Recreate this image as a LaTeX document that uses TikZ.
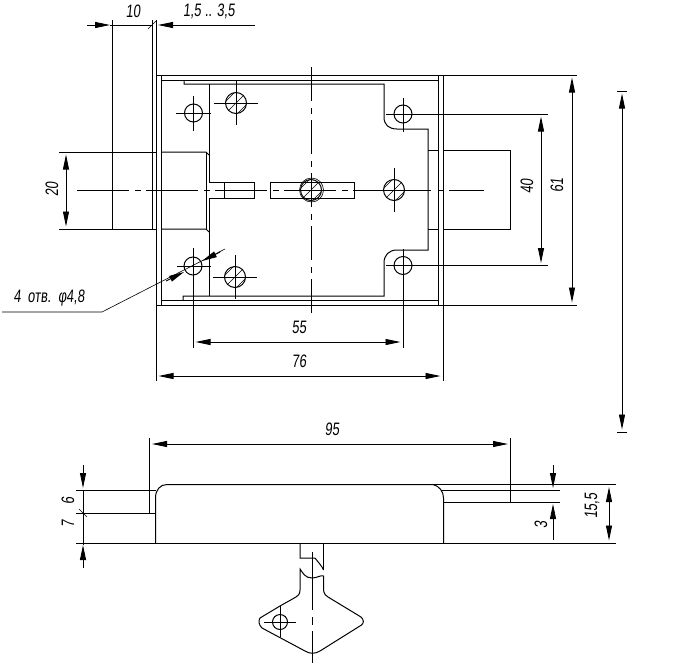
\documentclass[tikz,border=0pt]{standalone}
\usepackage{fontspec}
\setmainfont[FakeStretch=0.72,AutoFakeSlant=0.1]{Liberation Sans}
\usetikzlibrary{arrows.meta}
\tikzset{
  part/.style={line width=1pt},
  thinline/.style={line width=0.6pt},
  dimtip/.style={-{Triangle[length=15pt,width=6pt]},line width=0.9pt},
  dimboth/.style={{Triangle[length=15pt,width=6pt]}-{Triangle[length=15pt,width=6pt]},line width=0.9pt,shorten <=2.5pt,shorten >=2.5pt},
  dimtext/.style={font=\fontsize{18}{18}\selectfont\itshape,inner sep=0pt},
  axisx/.style={line width=1pt,dash pattern=on 52pt off 6pt on 6pt off 5pt on 52pt off 6pt on 6pt off 5pt on 52pt off 6pt on 6pt off 5pt on 52pt off 6pt on 6pt off 5pt on 78pt off 7pt on 6pt off 5pt on 40pt},
  axisy/.style={line width=1pt,dash pattern=on 34pt off 7pt on 6pt off 6pt}
}
\newcommand{\hatchedhole}[3]{%
  \draw[part] (#1,#2) circle (#3);%
  \begin{scope}[shift={(#1,#2)}]
    \clip (0,0) circle (#3);
    \foreach \s in {-12,-6,0,6,12}
      \draw[thinline] (-20+\s,20+\s) -- (20+\s,-20+\s);
  \end{scope}}
\begin{document}
\begin{tikzpicture}[x=1pt,y=-1pt]
  \useasboundingbox (0,0) rectangle (687,664);

  % Housing, front view
  \draw[part] (156,20) -- (156,381);%
  \draw[part] (443,75) -- (443,381);%
  \draw[part] (161,75) -- (161,305);%
  \draw[part] (438,75) -- (438,305);%
  \draw[part] (156,75) -- (577,75);%
  \draw[part] (156,305) -- (577,305);%
  \draw[part] (161,80) -- (438,80);%
  \draw[part] (161,300) -- (438,300);%

  % Inner plate
  \draw[part] (184,80) -- (184,84) -- (384,84) -- (384,117)
    .. controls (384,125) and (389,129) .. (397,129) -- (428,129) -- (428,250) -- (397,250)
    .. controls (389,250) and (384,255) .. (384,263) -- (384,296) -- (183,296) -- (183,300);%
  \draw[part] (209,84) -- (209,182) -- (224,182);%
  \draw[part] (224,198) -- (209,198) -- (209,296);%

  % Bolt and its tail
  \draw[part] (59,152) -- (156,152);%
  \draw[part] (59,229) -- (156,229);%
  \draw[part] (161,152) -- (206,152) -- (209,155);%
  \draw[part] (161,229) -- (206,229) -- (209,232);%
  \draw[part] (206,152) -- (206,229);%
  \draw[part] (112,20) -- (112,229);%
  \draw[part] (152,20) -- (152,229);%
  \draw[part] (224,182) rectangle (254,198);%
  \draw[part] (354,182) -- (270,182) -- (270,198) -- (354,198) -- cycle;%
  \draw[part] (428,150) -- (438,150);%
  \draw[part] (428,229) -- (438,229);%
  \draw[part] (443,150) -- (510,150) -- (510,229) -- (443,229);%

  % Axes
  \draw[axisx] (77,190) -- (484,190);%
  \draw[axisy] (311,67) -- (311,313);%

  % Key post with its two rings
  \draw[thinline] (311.5,190) circle (12);%
  \hatchedhole{311}{190}{10.5}
  \hatchedhole{394}{190}{10.5}
  \draw[part] (394,168) -- (394,212);%

  % Screws
  \hatchedhole{236}{103}{10.5}
  \draw[part] (214,103) -- (258,103);%
  \draw[part] (236,81) -- (236,125);%
  \hatchedhole{235}{277}{10.5}
  \draw[part] (213,277) -- (257,277);%
  \draw[part] (235,255) -- (235,299);%

  % Holes
  \draw[part] (193.5,113) circle (9);%
  \draw[part] (176,113) -- (211,113);%
  \draw[part] (193.5,96) -- (193.5,131);%
  \draw[part] (193,266) circle (9);%
  \draw[part] (177,266) -- (211,266);%
  \draw[part] (193,248) -- (193,348);%
  \draw[part] (403,114) circle (9);%
  \draw[part] (386,114) -- (548,114);%
  \draw[part] (403,98) -- (403,132);%
  \draw[part] (403,265.5) circle (9);%
  \draw[part] (386,265.5) -- (548,265.5);%
  \draw[part] (403,249) -- (403,348);%

  % Dimensions on the front view
  \draw[dimtip] (87,25) -- (110,25);%
  \draw[part] (110,25) -- (152,25);%
  \draw[thinline] (148,29) -- (156,21);%
  \draw[dimtip] (255,25) -- (158,25);%
  \node[dimtext] (ten) at (133,11) {10};%
  \node[dimtext] (travel) at (209,11) {1,5 .. 3,5};%
  \draw[dimboth] (66,152) -- (66,229);%
  \node[dimtext,rotate=90] (twenty) at (52,189) {20};%
  \draw[dimboth] (193,342) -- (403,342);%
  \node[dimtext] (fiftyfive) at (299,327) {55};%
  \draw[dimboth] (156,376) -- (443,376);%
  \node[dimtext] (seventysix) at (299,361) {76};%
  \draw[dimboth] (541,114) -- (541,265.5);%
  \node[dimtext,rotate=90] (forty) at (527,186) {40};%
  \draw[dimboth] (572,75) -- (572,305);%
  \node[dimtext,rotate=90] (sixtyone) at (557,185) {61};%
  \draw[dimboth] (622,91) -- (622,432);%
  \draw[part] (617,91) -- (627,91);%
  \draw[part] (617,432) -- (627,432);%

  % Leader for the holes
  \draw[thinline] (2,312) -- (102,312) -- (225,249);%
  \draw[dimtip] (166,281) -- (184,272);%
  \draw[dimtip] (220,252) -- (202,261);%
  \node[dimtext] (holes) at (49,298) {4\hspace{7pt}отв.\hspace{7pt}φ4,8};%

  % Side view
  \draw[part] (155.5,543) -- (155.5,498) .. controls (155.5,490) and (160,484.5) .. (167,484.5)
    -- (433,484.5) .. controls (439,486) and (443.5,491) .. (443.5,498) -- (443.5,543);%
  \draw[part] (76,543) -- (616,543);%
  \draw[part] (433,484.5) -- (616,484.5);%
  \draw[part] (76,490.5) -- (155.5,490.5);%
  \draw[part] (76,513.5) -- (155.5,513.5);%
  \draw[part] (441,490.5) -- (560,490.5);%
  \draw[part] (443.5,502) -- (560,502);%
  \draw[part] (149.5,438) -- (149.5,513.5);%
  \draw[part] (510.5,438) -- (510.5,502);%

  % Dimensions on the side view
  \draw[dimboth] (149.5,444) -- (510.5,444);%
  \node[dimtext] (ninetyfive) at (332,429) {95};%
  \draw[dimtip] (83,465) -- (83,488);%
  \draw[part] (83,490) -- (83,545);%
  \draw[dimtip] (83,568) -- (83,545);%
  \draw[thinline] (79,509) -- (87,517);%
  \node[dimtext,rotate=90] (six) at (68,501) {6};%
  \node[dimtext,rotate=90] (seven) at (68,524) {7};%
  \draw[dimtip] (553,465) -- (553,488);%
  \draw[dimtip] (553,540) -- (553,504);%
  \node[dimtext,rotate=90] (three) at (541,525) {3};%
  \draw[dimboth] (609,484.5) -- (609,543);%
  \node[dimtext,rotate=90] (height) at (592,506) {15,5};%

  % Key
  \draw[part] (300,543) -- (300,558) -- (315,558) .. controls (318,562) and (322,566) .. (323.5,570);%
  \draw[part] (323.5,543) -- (323.5,570);%
  \draw[part] (300,590) -- (300,569) .. controls (303,573) and (305,578) .. (312,578)
    .. controls (317,578) and (320,575) .. (323.5,576) -- (323.5,590)
    .. controls (324,594) and (326,596) .. (328,597) -- (361,617) .. controls (364,620) and (364,623) .. (361.5,625)
    -- (320,651) .. controls (315,654) and (310,654) .. (305,651) -- (262,628)
    .. controls (259,625) and (258,621) .. (260,618) -- (280,606) -- (296,597) .. controls (298,596) and (300,594) .. (300,590);%
  \draw[part] (312,552) -- (312,610);%
  \draw[part] (312,617) -- (312,625);%
  \draw[part] (312,631) -- (312,663);%
  \draw[part] (280,622) circle (7.5);%
  \draw[part] (264,622) -- (296,622);%
  \draw[part] (280,606) -- (280,637);%
\end{tikzpicture}
\end{document}
